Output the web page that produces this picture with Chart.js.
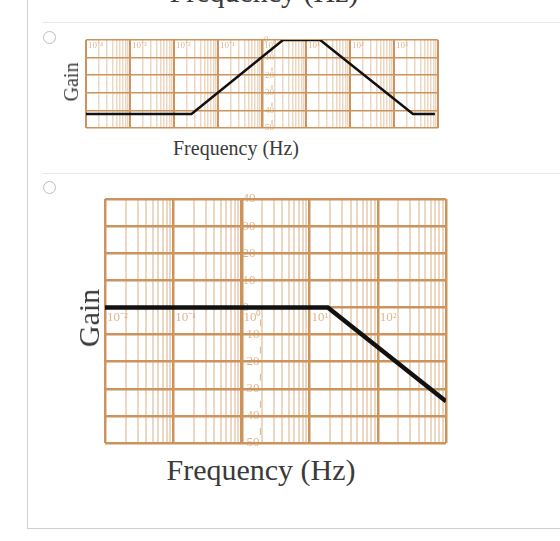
<!DOCTYPE html>
<html><head><meta charset="utf-8">
<script src="https://cdn.jsdelivr.net/npm/chart.js@4"></script>
<style>
html,body{margin:0;padding:0;background:#fff;width:560px;height:541px;overflow:hidden;position:relative;font-family:"Liberation Serif",serif;color:#3a3a3a;}
.abs{position:absolute;}
.t{position:absolute;white-space:nowrap;line-height:1;text-align:center;}
.rot{position:absolute;white-space:nowrap;line-height:1;transform:translate(-50%,-50%) rotate(-90deg);}
.radio{position:absolute;width:11px;height:11px;border:1px solid #bdbdbd;border-radius:50%;background:#fff;}
</style></head><body>
<div class="abs" style="left:27px;top:0;width:1px;height:528px;background:#cfcfcf"></div>
<div class="abs" style="left:27px;top:528px;width:533px;height:1px;background:#cfcfcf"></div>
<div class="abs" style="left:42px;top:22px;width:518px;height:1px;background:#e6e6e6"></div>
<div class="abs" style="left:42px;top:173px;width:518px;height:1px;background:#e6e6e6"></div>
<div class="radio" style="left:43px;top:31px"></div>
<div class="radio" style="left:43px;top:181px"></div>

<div class="t" style="left:114px;top:-23px;width:300px;font-size:30px">Frequency (Hz)</div>

<div class="abs" style="left:80px;top:34px;width:364px;height:100px"><canvas id="c1" width="364" height="100"></canvas></div>
<div class="rot" style="left:71px;top:82px;font-size:20px">Gain</div>
<div class="t" style="left:86px;top:138px;width:300px;font-size:20px">Frequency (Hz)</div>

<div class="abs" style="left:99px;top:193px;width:353px;height:256px"><canvas id="c2" width="353" height="256"></canvas></div>
<div class="rot" style="left:89px;top:318px;font-size:30px">Gain</div>
<div class="t" style="left:111px;top:455px;width:300px;font-size:30px">Frequency (Hz)</div>

<script>
// ---- data ----
const topFreq = [0.0001, 0.025, 3.0, 21, 2700, 8500];
const topGain = [-42, -42, 0, 0, -42, -42];
const botFreq = [0.01, 18.5, 1000];
const botGain = [0, 0, -34.6];
const topDecades = [1e-4, 1e-3, 1e-2, 1e-1, 1, 10, 100, 1000];
const topDecadeLabels = ['10⁻⁴','10⁻³','10⁻²','10⁻¹','10⁰','10¹','10²','10³'];
const topGainTicks = [0, -10, -20, -30, -40, -50];
const topGainLabels = ['0','10','20','30','40','50'];
const botDecades = [0.01, 0.1, 1, 10, 100];
const botDecadeLabels = ['10⁻²','10⁻¹','10⁰','10¹','10²'];
const botGainTicks = [40, 30, 20, 10, 0, -10, -20, -30, -40, -50];
const botGainLabels = ['40','30','20','10','0','10','20','30','40','50'];

const MAJOR = '#cc945c';
const MINOR = 'rgba(210,160,110,0.42)';
const LABEL = 'rgba(205,150,95,0.7)';

function isDecade(v){ const l = Math.log10(v); return Math.abs(l - Math.round(l)) < 1e-6; }

const bodeLabels = {
  id: 'bodeLabels',
  beforeDatasetsDraw(chart, args, o) {
    const {ctx, scales: {x, y}} = chart;
    ctx.save();
    ctx.fillStyle = LABEL;
    ctx.strokeStyle = LABEL;
    ctx.font = o.font;
    ctx.textBaseline = 'middle';
    ctx.textAlign = 'left';
    const x0 = x.getPixelForValue(1);
    o.yTicks.forEach((v, i) => {
      ctx.fillText(o.yLabels[i], x0 + (v < 0 ? o.negDx : o.posDx), y.getPixelForValue(v));
    });
    o.decades.forEach((v, i) => {
      ctx.fillText(o.decadeLabels[i], x.getPixelForValue(v) + 2, y.getPixelForValue(o.decadeY) + o.decDy);
    });
    ctx.lineWidth = 1;
    for (let i = 0; i < o.yTicks.length - 1; i++) {
      const a = o.yTicks[i], b = o.yTicks[i + 1];
      if (b >= 0) continue;
      const ym = (y.getPixelForValue(a) + y.getPixelForValue(b)) / 2 + o.dashDy;
      ctx.beginPath();
      ctx.moveTo(x0 + o.dashDx, ym - o.dashLen / 2);
      ctx.lineTo(x0 + o.dashDx, ym + o.dashLen / 2);
      ctx.stroke();
    }
    ctx.restore();
  }
};

function makeChart(id, freq, gain, xmin, xmax, ymin, ymax, w, lab) {
  const lo = Math.round(Math.log10(xmin)), hi = Math.round(Math.log10(xmax));
  return new Chart(document.getElementById(id), {
    type: 'line',
    data: { datasets: [{
      data: freq.map((f, i) => ({x: f, y: gain[i]})),
      borderColor: '#111', borderWidth: w.line, pointRadius: 0, tension: 0, fill: false
    }]},
    options: {
      responsive: false, animation: false, devicePixelRatio: 1,
      layout: { padding: 6 },
      plugins: { legend: {display: false}, tooltip: {enabled: false}, bodeLabels: lab },
      scales: {
        x: {
          type: 'logarithmic', min: xmin, max: xmax,
          afterBuildTicks(scale) {
            const t = [];
            for (let e = lo; e < hi; e++) for (let m = 1; m < 10; m++) t.push({value: m * Math.pow(10, e)});
            t.push({value: Math.pow(10, hi)});
            scale.ticks = t;
          },
          ticks: { display: false },
          border: { display: false },
          grid: {
            drawTicks: false,
            color: c => isDecade(c.tick.value) ? MAJOR : MINOR,
            lineWidth: c => {
              const v = c.tick.value;
              if (Math.abs(v - 1) < 1e-9) return w.zero;
              return isDecade(v) ? w.major : w.minor;
            }
          }
        },
        y: {
          type: 'linear', min: ymin, max: ymax,
          ticks: { display: false, stepSize: 10 },
          border: { display: false },
          grid: { drawTicks: false, color: MAJOR, lineWidth: w.hgrid }
        }
      }
    },
    plugins: [bodeLabels]
  });
}

makeChart('c1', topFreq, topGain, 1e-4, 1e4, -50, 0,
  {line: 2.5, zero: 2.5, major: 2, minor: 1.5, hgrid: 1.6},
  {font: '9px "Liberation Serif", serif', yTicks: topGainTicks, yLabels: topGainLabels,
   decades: topDecades, decadeLabels: topDecadeLabels, decadeY: 0, decDy: 6,
   posDx: 2, negDx: 3, dashDx: 10, dashDy: 3, dashLen: 4});

makeChart('c2', botFreq, botGain, 1e-2, 1e3, -50, 40,
  {line: 4.5, zero: 3.5, major: 2.5, minor: 2, hgrid: 2.4},
  {font: '13px "Liberation Serif", serif', yTicks: botGainTicks, yLabels: botGainLabels,
   decades: botDecades, decadeLabels: botDecadeLabels, decadeY: 0, decDy: 10,
   posDx: 1, negDx: 5, dashDx: 19, dashDy: 2, dashLen: 7});
</script>
</body></html>
